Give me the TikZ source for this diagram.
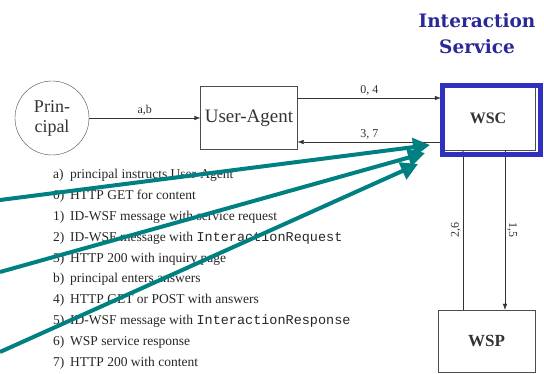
\documentclass[tikz,border=0pt]{standalone}
\usepackage{fontspec}
\setmainfont{Liberation Serif}
\setmonofont{Liberation Mono}
\newfontfamily\titlefont{DejaVu Serif}
\usetikzlibrary{arrows.meta}
\definecolor{isblue}{RGB}{48,48,190}
\definecolor{isnavy}{RGB}{40,40,150}
\definecolor{isteal}{RGB}{0,128,128}
\begin{document}
\begin{tikzpicture}[x=1pt,y=-1pt,
box/.style={draw=black!70,thin,minimum width=97pt,minimum height=63pt,inner sep=0pt,text=black!80,font=\fontsize{19}{22}\selectfont},
party/.style={circle,draw=black!70,thin,minimum size=74pt,inner sep=0pt,align=center,text=black!80,font=\fontsize{18}{20}\selectfont},
msg/.style={-{Latex[length=6pt,width=4.5pt]},black!80},
msgnote/.style={black!80,font=\fontsize{12}{14}\selectfont,inner sep=2pt},
listline/.style={anchor=west,inner sep=0pt,text=black!85,font=\fontsize{13.5}{16}\selectfont},
pointer/.style={isteal,line width=4pt,-{Triangle[length=17pt,width=18pt]}}]

\useasboundingbox (0,0) rectangle (544,374);

\node (title) at (477,34) [align=center,text=isnavy,font=\titlefont\bfseries\fontsize{18.5}{26}\selectfont] {Interaction\\Service};

\node (pr) at (52,118) [party] {Prin-\\cipal};
\node (ua) at (249,118) [box] {User-Agent};
\node (wsc) at (488,118) [box,minimum width=94pt,minimum height=64pt,font=\bfseries\fontsize{16}{18}\selectfont] {WSC};
\node (wsp) at (486.5,341) [box,minimum height=62pt,font=\bfseries\fontsize{17}{19}\selectfont] {WSP};

\draw [msg] (pr) -- node [msgnote,above] {a,b} (ua);
\draw [msg] ([yshift=20pt]ua.east) -- node [msgnote,above] {0, 4} ([yshift=20pt]ua.east -| wsc.west);
\draw [msg] ([yshift=-24pt]ua.east -| wsc.west) -- node [msgnote,above] {3, 7} ([yshift=-24pt]ua.east);

\draw [msg] ([xshift=-23.5pt]wsp.north) -- node [msgnote,rotate=90,above] {2,6} ([xshift=-23.5pt]wsp.north |- wsc.south);
\draw [msg] ([xshift=17pt]wsc.south) -- node [msgnote,rotate=-90,above] {1,5} ([xshift=17pt]wsc.south |- wsp.north);

% frame of the interaction service
\draw [isblue,line width=5pt] ([shift={(1.5,-0.5)}]wsc.north west) rectangle ([shift={(5.5,4.5)}]wsc.south east);

% message list
\node (la) at (53,175) [listline] {\makebox[17pt][l]{a)}principal instructs User-Agent};
\node (l0) at (53,196) [listline] {\makebox[17pt][l]{0)}HTTP GET for content};
\node (l1) at (53,217) [listline] {\makebox[17pt][l]{1)}ID-WSF message with service request};
\node (l2) at (53,238) [listline] {\makebox[17pt][l]{2)}ID-WSF message with \texttt{InteractionRequest}};
\node (l3) at (53,259) [listline] {\makebox[17pt][l]{3)}HTTP 200 with inquiry page};
\node (lb) at (53,279.5) [listline] {\makebox[17pt][l]{b)}principal enters answers};
\node (l4) at (53,300) [listline] {\makebox[17pt][l]{4)}HTTP GET or POST with answers};
\node (l5) at (53,321) [listline] {\makebox[17pt][l]{5)}ID-WSF message with \texttt{InteractionResponse}};
\node (l6) at (53,342) [listline] {\makebox[17pt][l]{6)}WSP service response};
\node (l7) at (53,363) [listline] {\makebox[17pt][l]{7)}HTTP 200 with content};

% pointers onto the WSC
\coordinate (p1) at (0,200);
\coordinate (t1) at (430,145);
\coordinate (p2) at (0,272);
\coordinate (t2) at (425,153);
\coordinate (p3) at (0,352);
\coordinate (t3) at (418,164);
\draw [pointer] (p1) -- (t1);
\draw [pointer] (p2) -- (t2);
\draw [pointer] (p3) -- (t3);

\end{tikzpicture}
\end{document}
